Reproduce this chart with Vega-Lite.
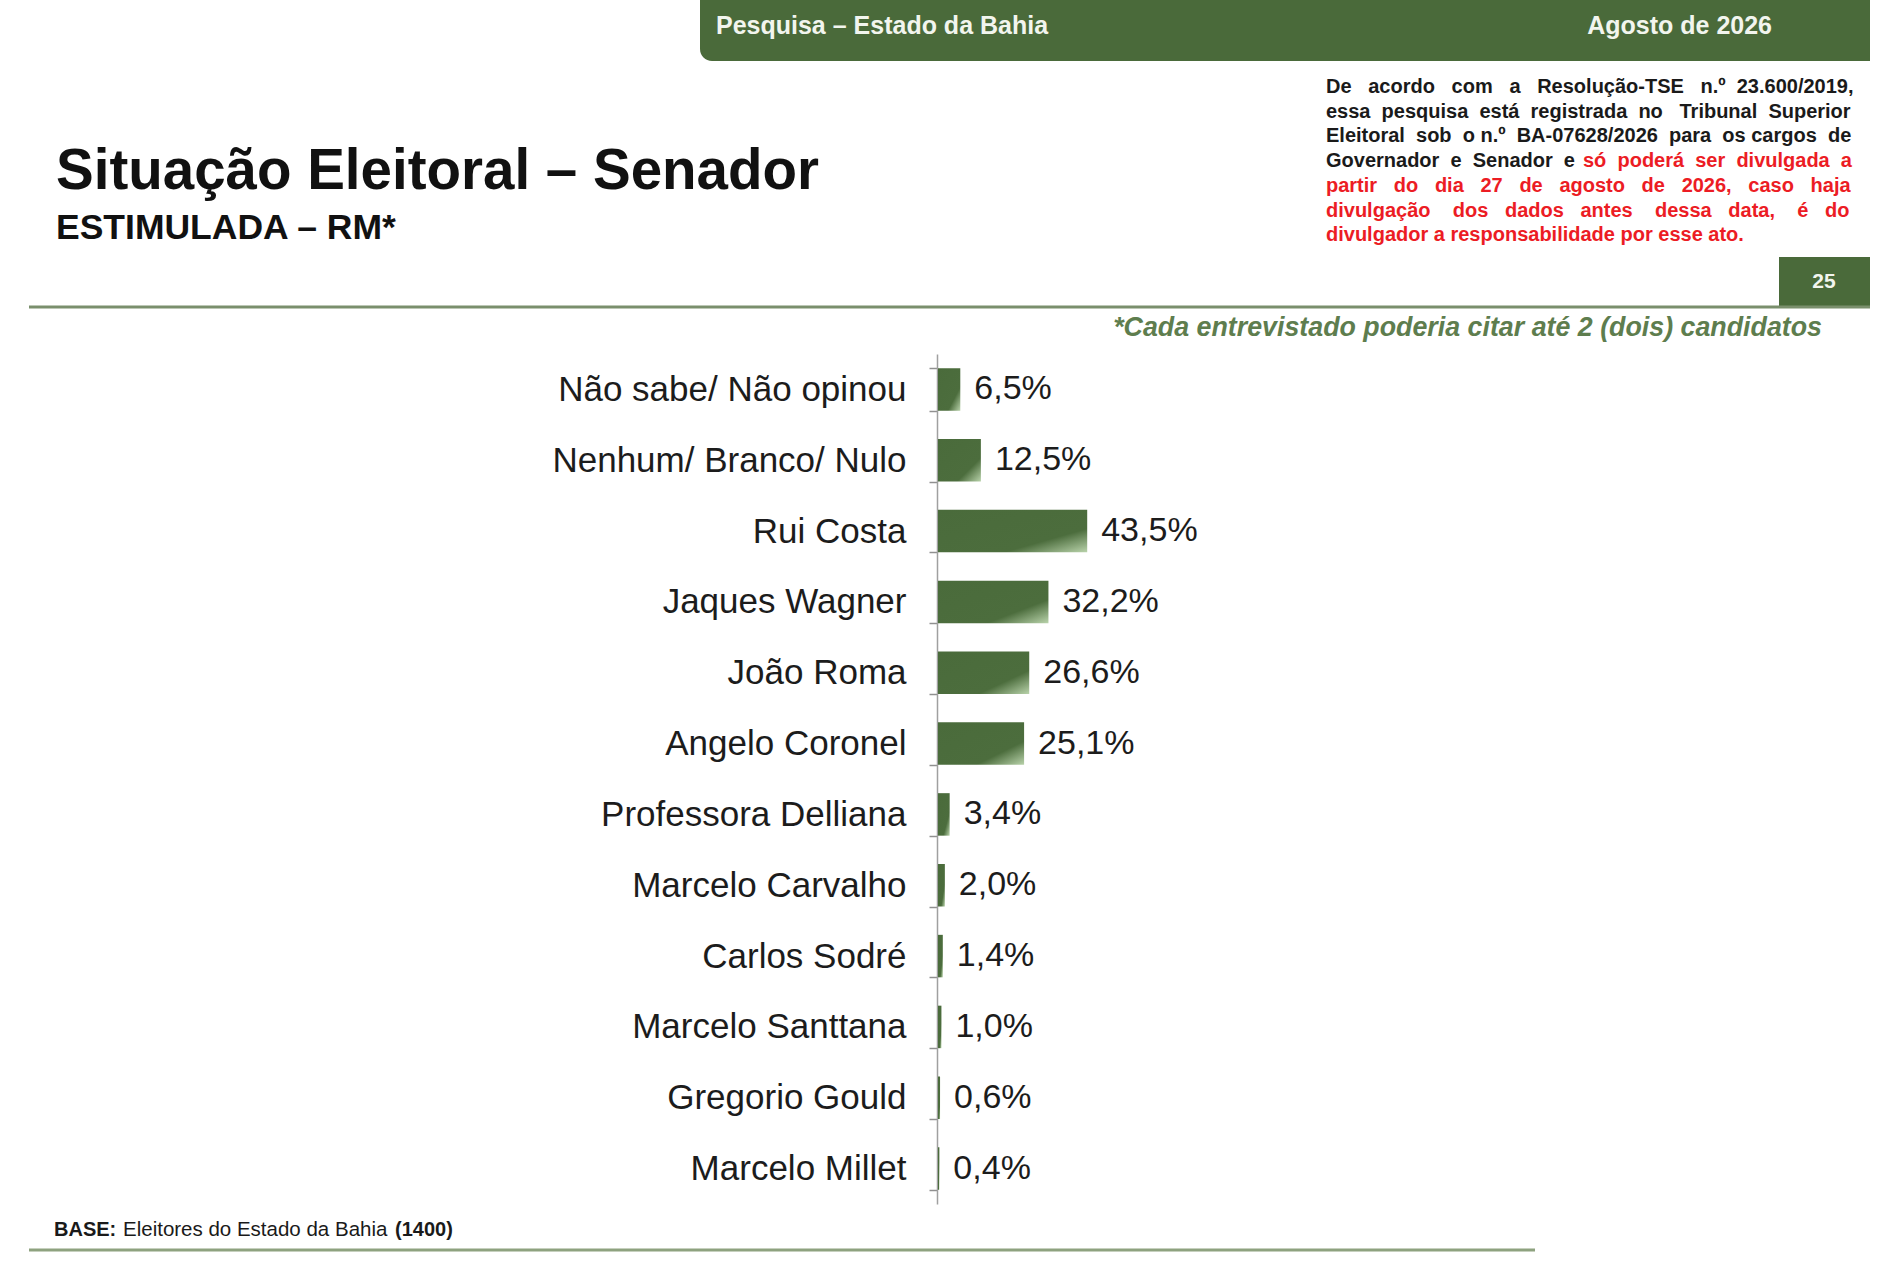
{
  "$schema": "https://vega.github.io/schema/vega-lite/v6.json",
  "width": 1900,
  "height": 1267,
  "autosize": "none",
  "padding": 0,
  "background": "white",
  "config": {"view": {"stroke": null}, "font": "Liberation Sans"},
  "datasets": {
    "senado": [
      {"candidato": "Não sabe/ Não opinou", "pct": 6.5},
      {"candidato": "Nenhum/ Branco/ Nulo", "pct": 12.5},
      {"candidato": "Rui Costa", "pct": 43.5},
      {"candidato": "Jaques Wagner", "pct": 32.2},
      {"candidato": "João Roma", "pct": 26.6},
      {"candidato": "Angelo Coronel", "pct": 25.1},
      {"candidato": "Professora Delliana", "pct": 3.4},
      {"candidato": "Marcelo Carvalho", "pct": 2.0},
      {"candidato": "Carlos Sodré", "pct": 1.4},
      {"candidato": "Marcelo Santtana", "pct": 1.0},
      {"candidato": "Gregorio Gould", "pct": 0.6},
      {"candidato": "Marcelo Millet", "pct": 0.4}
    ]
  },
  "layer": [
    {
      "data": {"values": [{}]},
      "mark": {"type": "rect", "color": "#4a6a3a", "cornerRadiusBottomLeft": 12},
      "encoding": {"x": {"value": 700}, "x2": {"value": 1870}, "y": {"value": 0}, "y2": {"value": 61}}
    },
    {
      "data": {"values": [{}]},
      "mark": {"type": "text", "text": "Pesquisa – Estado da Bahia", "align": "left", "baseline": "middle", "fontSize": 25, "fontWeight": "bold", "color": "#f2f5ee"},
      "encoding": {"x": {"value": 716}, "y": {"value": 26}}
    },
    {
      "data": {"values": [{}]},
      "mark": {"type": "text", "text": "Agosto de 2026", "align": "right", "baseline": "middle", "fontSize": 25, "fontWeight": "bold", "color": "#f2f5ee"},
      "encoding": {"x": {"value": 1772}, "y": {"value": 26}}
    },
    {
      "data": {"values": [{}]},
      "mark": {"type": "text", "text": "Situação Eleitoral – Senador", "align": "left", "baseline": "middle", "fontSize": 56.5, "fontWeight": "bold", "color": "#111111"},
      "encoding": {"x": {"value": 56}, "y": {"value": 172}}
    },
    {
      "data": {"values": [{}]},
      "mark": {"type": "text", "text": "ESTIMULADA – RM*", "align": "left", "baseline": "middle", "fontSize": 35.5, "fontWeight": "bold", "color": "#111111"},
      "encoding": {"x": {"value": 56}, "y": {"value": 228}}
    },
    {
      "data": {"values": [{}]},
      "mark": {
        "type": "text",
        "text": [
          "De \u00a0\u00a0acordo \u00a0\u00a0com \u00a0\u00a0a \u00a0\u00a0Resolução-TSE \u00a0\u00a0n.º \u00a023.600/2019,",
          "essa \u00a0pesquisa \u00a0está \u00a0registrada \u00a0no \u00a0\u00a0Tribunal \u00a0Superior",
          "Eleitoral \u00a0sob \u00a0o n.º \u00a0BA-07628/2026 \u00a0para \u00a0os cargos \u00a0de"
        ],
        "align": "left", "baseline": "alphabetic", "lineHeight": 24.7,
        "fontSize": 20, "fontWeight": "bold", "color": "#1a1a1a"
      },
      "encoding": {"x": {"value": 1326}, "y": {"value": 93}}
    },
    {
      "data": {"values": [{}]},
      "mark": {"type": "text", "text": "Governador \u00a0e \u00a0Senador \u00a0e", "align": "left", "baseline": "alphabetic", "fontSize": 20, "fontWeight": "bold", "color": "#1a1a1a"},
      "encoding": {"x": {"value": 1326}, "y": {"value": 167}}
    },
    {
      "data": {"values": [{}]},
      "mark": {"type": "text", "text": "só \u00a0poderá \u00a0ser \u00a0divulgada \u00a0a", "align": "left", "baseline": "alphabetic", "fontSize": 20, "fontWeight": "bold", "color": "#ec1c24"},
      "encoding": {"x": {"value": 1583}, "y": {"value": 167}}
    },
    {
      "data": {"values": [{}]},
      "mark": {
        "type": "text",
        "text": [
          "partir \u00a0\u00a0do \u00a0\u00a0dia \u00a0\u00a027 \u00a0\u00a0de \u00a0\u00a0agosto \u00a0\u00a0de \u00a0\u00a02026, \u00a0\u00a0caso \u00a0\u00a0haja",
          "divulgação \u00a0\u00a0\u00a0dos \u00a0\u00a0dados \u00a0\u00a0antes \u00a0\u00a0\u00a0dessa \u00a0\u00a0data, \u00a0\u00a0\u00a0é \u00a0\u00a0do",
          "divulgador a responsabilidade por esse ato."
        ],
        "align": "left", "baseline": "alphabetic", "lineHeight": 24.7,
        "fontSize": 20, "fontWeight": "bold", "color": "#ec1c24"
      },
      "encoding": {"x": {"value": 1326}, "y": {"value": 192}}
    },
    {
      "data": {"values": [{}]},
      "mark": {"type": "rect", "color": "#4a6a3a"},
      "encoding": {"x": {"value": 1779}, "x2": {"value": 1870}, "y": {"value": 257}, "y2": {"value": 307}}
    },
    {
      "data": {"values": [{}]},
      "mark": {"type": "text", "text": "25", "align": "center", "baseline": "middle", "fontSize": 21, "fontWeight": "bold", "color": "#f2f5ee"},
      "encoding": {"x": {"value": 1824}, "y": {"value": 282}}
    },
    {
      "data": {"values": [{}]},
      "mark": {"type": "rule", "color": "#7a8f6c", "strokeWidth": 3},
      "encoding": {"x": {"value": 29}, "x2": {"value": 1870}, "y": {"value": 307}}
    },
    {
      "data": {"values": [{}]},
      "mark": {"type": "text", "text": "*Cada entrevistado poderia citar até 2 (dois) candidatos", "align": "right", "baseline": "middle", "fontSize": 26.8, "fontWeight": "bold", "fontStyle": "italic", "color": "#5e7d4e"},
      "encoding": {"x": {"value": 1822}, "y": {"value": 328}}
    },
    {
      "data": {"name": "senado"},
      "transform": [
        {"calculate": "replace(format(datum.pct, '.1f'), '.', ',') + '%'", "as": "rotulo"}
      ],
      "encoding": {
        "y": {
          "field": "candidato",
          "type": "nominal",
          "sort": null,
          "title": null,
          "scale": {"range": [354, 1204], "paddingInner": 0.4, "paddingOuter": 0.2},
          "axis": {
            "offset": -937,
            "domainColor": "#a0a0a0",
            "domainWidth": 1.5,
            "ticks": true,
            "tickColor": "#909090",
            "tickWidth": 1.5,
            "tickSize": 8,
            "tickBand": "extent",
            "labelFont": "Liberation Sans",
            "labelFontSize": 35,
            "labelColor": "#1c1c1c",
            "labelPadding": 23,
            "labelLimit": 700
          }
        },
        "x": {
          "field": "pct",
          "type": "quantitative",
          "scale": {"domain": [0, 100], "range": [938, 1281]},
          "axis": null
        }
      },
      "layer": [
        {
          "mark": {
            "type": "bar",
            "color": {
              "gradient": "linear",
              "x1": 0, "y1": 0, "x2": 1, "y2": 1,
              "stops": [
                {"offset": 0, "color": "#4a6b3b"},
                {"offset": 0.72, "color": "#4c6d3d"},
                {"offset": 1, "color": "#b9d3ab"}
              ]
            }
          }
        },
        {
          "mark": {"type": "text", "align": "left", "baseline": "middle", "dx": 14, "fontSize": 34, "color": "#1c1c1c"},
          "encoding": {"text": {"field": "rotulo", "type": "nominal"}}
        }
      ]
    },
    {
      "data": {"values": [{}]},
      "mark": {"type": "text", "text": "BASE:", "align": "left", "baseline": "middle", "fontSize": 20, "fontWeight": "bold", "color": "#1a1a1a"},
      "encoding": {"x": {"value": 54}, "y": {"value": 1230}}
    },
    {
      "data": {"values": [{}]},
      "mark": {"type": "text", "text": "Eleitores do Estado da Bahia", "align": "left", "baseline": "middle", "fontSize": 20.5, "color": "#1a1a1a"},
      "encoding": {"x": {"value": 123}, "y": {"value": 1230}}
    },
    {
      "data": {"values": [{}]},
      "mark": {"type": "text", "text": "(1400)", "align": "left", "baseline": "middle", "fontSize": 20, "fontWeight": "bold", "color": "#1a1a1a"},
      "encoding": {"x": {"value": 395}, "y": {"value": 1230}}
    },
    {
      "data": {"values": [{}]},
      "mark": {"type": "rule", "color": "#8ea27f", "strokeWidth": 3},
      "encoding": {"x": {"value": 29}, "x2": {"value": 1535}, "y": {"value": 1250}}
    }
  ]
}
